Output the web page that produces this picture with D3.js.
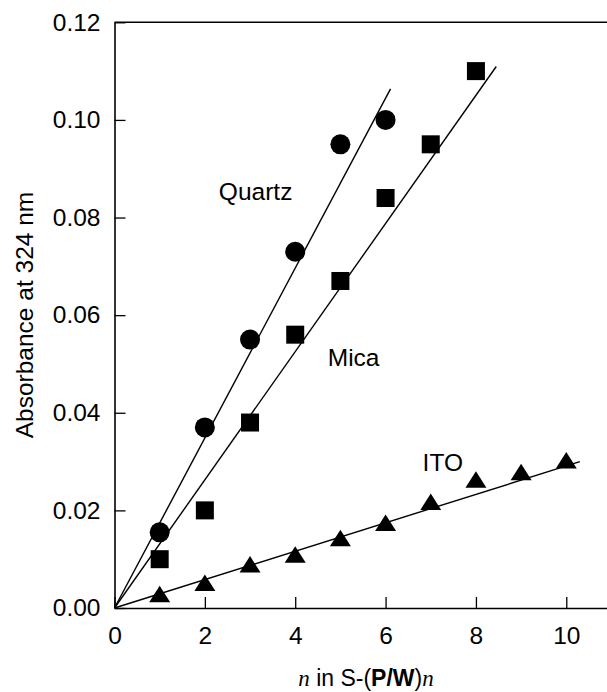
<!DOCTYPE html>
<html>
<head>
<meta charset="utf-8">
<script src="https://cdn.jsdelivr.net/npm/d3@7"></script>
<style>
  body { margin: 0; background: #fff; }
  text { font-family: "Liberation Sans", Arial, sans-serif; fill: #000; }
</style>
</head>
<body>
<div id="chart-area"></div>
<script>

// layers per sample, absorbance at 324 nm
const quartzN = [1, 2, 3, 4, 5, 6];
const quartzAbs = [0.0155, 0.037, 0.055, 0.073, 0.095, 0.100];

const micaN = [1, 2, 3, 4, 5, 6, 7, 8];
const micaAbs = [0.010, 0.020, 0.038, 0.056, 0.067, 0.084, 0.095, 0.110];

const itoN = [1, 2, 3, 4, 5, 6, 7, 8, 9, 10];
const itoAbs = [0.0028, 0.0051, 0.0089, 0.0109, 0.0143, 0.0174, 0.0217, 0.0263, 0.0278, 0.0302];

// fitted lines through origin
const fitNames = ['Quartz', 'Mica', 'ITO'];
const fitSlopes = [0.01741, 0.01313, 0.00291];
const fitEnds = [6.11, 8.45, 10.3];

const xTicks = [0, 2, 4, 6, 8, 10];
const yTicks = [0, 0.02, 0.04, 0.06, 0.08, 0.10, 0.12];

// text labels placed at data coordinates
const labelText = ['Quartz', 'Mica', 'ITO'];
const labelN = [2.31, 4.72, 6.82];
const labelAbs = [0.0836, 0.0496, 0.0281];

const width = 607;
const height = 692;
const margin = {top: 22.3, left: 114.5};

const svg = d3.select('#chart-area')
    .append('svg')
    .attr('width', width)
    .attr('height', height);

const g = svg.append('g')
    .attr('transform', `translate(${margin.left},${margin.top})`);

const x = d3.scaleLinear()
    .domain([0, 11.2])
    .range([0, 506]);

const y = d3.scaleLinear()
    .domain([0, 0.12])
    .range([585.7, 0]);

const xAxis = d3.axisBottom(x)
    .tickValues(xTicks)
    .tickFormat(d3.format('d'))
    .tickSizeInner(-11)
    .tickSizeOuter(0)
    .tickPadding(19);

const yAxis = d3.axisLeft(y)
    .tickValues(yTicks)
    .tickFormat(d3.format('.2f'))
    .tickSizeInner(-11)
    .tickSizeOuter(0)
    .tickPadding(14);

const gx = g.append('g')
    .attr('transform', `translate(0,${y(0)})`)
    .call(xAxis);

const gy = g.append('g').call(yAxis);

[gx, gy].forEach(a => {
  a.select('.domain').attr('stroke-width', 1.6);
  a.selectAll('.tick line').attr('stroke-width', 1.3);
  a.selectAll('.tick text')
    .attr('font-size', '24.5px')
    .attr('font-family', '"Liberation Sans", Arial, sans-serif')
    .attr('fill', '#000');
});

// top frame line
g.append('line')
    .attr('x1', x(0)).attr('x2', x(11.2))
    .attr('y1', y(0.12)).attr('y2', y(0.12))
    .attr('stroke', '#000')
    .attr('stroke-width', 1.6);

// fit lines
g.selectAll('.fit')
    .data(fitNames)
    .enter()
    .append('line')
    .attr('class', 'fit')
    .attr('x1', x(0))
    .attr('y1', y(0))
    .attr('x2', (d, i) => x(fitEnds[i]))
    .attr('y2', (d, i) => y(fitSlopes[i] * fitEnds[i]))
    .attr('stroke', '#000')
    .attr('stroke-width', 1.4);

// quartz: circles
g.selectAll('.quartz')
    .data(quartzN)
    .enter()
    .append('circle')
    .attr('class', 'quartz')
    .attr('cx', d => x(d))
    .attr('cy', (d, i) => y(quartzAbs[i]))
    .attr('r', 10)
    .attr('fill', '#000');

// mica: squares
g.selectAll('.mica')
    .data(micaN)
    .enter()
    .append('rect')
    .attr('class', 'mica')
    .attr('x', d => x(d) - 9)
    .attr('y', (d, i) => y(micaAbs[i]) - 9)
    .attr('width', 18)
    .attr('height', 18)
    .attr('fill', '#000');

// ITO: triangles, centred on their bounding box
const tri = 'M0,-8.5L10.5,8L-10.5,8Z';
g.selectAll('.ito')
    .data(itoN)
    .enter()
    .append('path')
    .attr('class', 'ito')
    .attr('d', tri)
    .attr('transform', (d, i) => `translate(${x(d)},${y(itoAbs[i])})`)
    .attr('fill', '#000');

// series labels
g.selectAll('.lbl')
    .data(labelText)
    .enter()
    .append('text')
    .attr('class', 'lbl')
    .attr('x', (d, i) => x(labelN[i]))
    .attr('y', (d, i) => y(labelAbs[i]))
    .attr('font-size', '24.5px')
    .text(d => d);

// y axis title
svg.append('text')
    .attr('transform', 'translate(33,315) rotate(-90)')
    .attr('text-anchor', 'middle')
    .attr('font-size', '24.5px')
    .text('Absorbance at 324 nm');

// x axis title
const xt = svg.append('text')
    .attr('x', 366)
    .attr('y', 686)
    .attr('text-anchor', 'middle')
    .attr('font-size', '23px');
xt.append('tspan')
    .attr('font-family', '"Liberation Serif", "Times New Roman", serif')
    .attr('font-style', 'italic')
    .text('n');
xt.append('tspan').text(' in S-(');
xt.append('tspan').attr('font-weight', 'bold').text('P/W');
xt.append('tspan').text(')');
xt.append('tspan')
    .attr('font-family', '"Liberation Serif", "Times New Roman", serif')
    .attr('font-style', 'italic')
    .text('n');

</script>
</body>
</html>
